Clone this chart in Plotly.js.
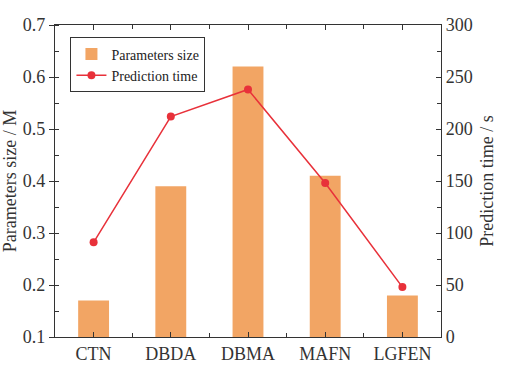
<!DOCTYPE html>
<html><head><meta charset="utf-8">
<script src="https://cdn.plot.ly/plotly-3.0.1.min.js"></script>
<style>html,body{margin:0;padding:0;background:#fff;}#chart{width:516px;height:365px;}</style>
</head><body><div id="chart"></div>
<script>
const categories = ["CTN", "DBDA", "DBMA", "MAFN", "LGFEN"];
const paramSize = [0.17, 0.39, 0.62, 0.41, 0.18];
const predTime = [91, 212, 238, 148, 48];
const leftTicks = [0.1, 0.2, 0.3, 0.4, 0.5, 0.6, 0.7];
const rightTicks = [0, 50, 100, 150, 200, 250, 300];
const betweenTicks = [0.5, 1.5, 2.5, 3.5];

const font = {family: "Liberation Serif", color: "#333", size: 17};
const traces = [
  {type: "bar", x: categories, base: 0.1, y: paramSize.map(v => v - 0.1), name: "Parameters size", width: 0.4,
   marker: {color: "#F2A564"}, yaxis: "y", hoverinfo: "skip"},
  {type: "scatter", mode: "lines+markers", x: categories, y: predTime, name: "Prediction time",
   yaxis: "y2", line: {color: "#E8313A", width: 1.5}, marker: {color: "#E8313A", size: 8}}
];
const axLine = {showline: true, linecolor: "#333", linewidth: 1.2, tickcolor: "#333", zeroline: false, showgrid: false};
const layout = {
  width: 516, height: 365,
  margin: {l: 55, r: 75, t: 25, b: 28},
  paper_bgcolor: "#fff", plot_bgcolor: "#fff",
  font: font,
  showlegend: true,
  legend: {x: 0.04, y: 0.96, xanchor: "left", yanchor: "top", bordercolor: "#333", borderwidth: 1,
           font: {family: "Liberation Serif", size: 14, color: "#222"}, itemwidth: 30, tracegroupgap: 0, bgcolor: "rgba(255,255,255,0)"},
  xaxis: Object.assign({}, axLine, {type: "category", range: [-0.5, 4.5], mirror: "ticks", ticks: "inside", ticklen: 5,
    tickfont: {size: 18}}),
  xaxis3: {overlaying: "x", anchor: "y", range: [-0.5, 4.5], tickvals: betweenTicks, showticklabels: false,
    ticks: "inside", ticklen: 4, tickcolor: "#333", mirror: "ticks", showline: false, showgrid: false, zeroline: false},
  yaxis: Object.assign({}, axLine, {range: [0.1, 0.7], tickvals: leftTicks, ticktext: leftTicks.map(v => v.toFixed(1)),
    ticks: "outside", ticklen: 5,
    minor: {dtick: 0.05, ticks: "inside", ticklen: 4, tickcolor: "#333"},
    title: {text: "Parameters size / M", font: {size: 18}, standoff: 4}, tickfont: {size: 18}}),
  yaxis2: Object.assign({}, axLine, {overlaying: "y", side: "right", range: [0, 300], tickvals: rightTicks,
    ticks: "inside", ticklen: 5,
    minor: {dtick: 25, ticks: "inside", ticklen: 4, tickcolor: "#333"},
    title: {text: "Prediction time / s", font: {size: 18}, standoff: 8}, tickfont: {size: 18}}),
  bargap: 0.6
};
traces.push({type: "scatter", x: [0], y: [0.1], xaxis: "x3", yaxis: "y", mode: "markers",
  marker: {opacity: 0}, showlegend: false, hoverinfo: "skip"});
Plotly.newPlot("chart", traces, layout, {displayModeBar: false, staticPlot: true});
</script></body></html>
